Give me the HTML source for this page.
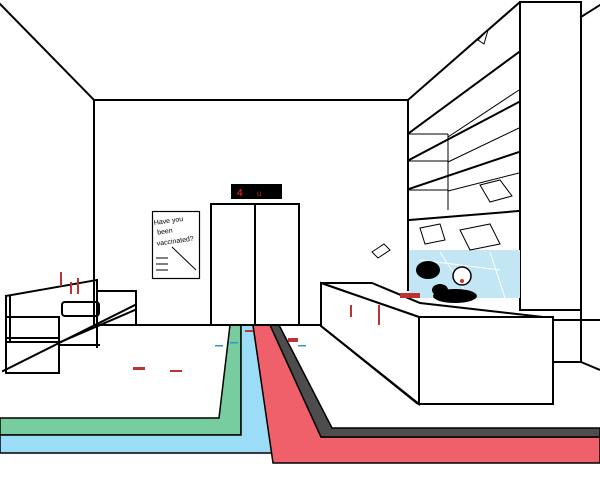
<!DOCTYPE html>
<html><head><style>html,body{margin:0;padding:0;background:#fff}svg{display:block}</style></head>
<body>
<svg width="600" height="480" viewBox="0 0 600 480" xmlns="http://www.w3.org/2000/svg">
<rect width="600" height="480" fill="#fff"/>
<g stroke="#000" stroke-width="1.5" stroke-linejoin="miter">
<!-- carpets -->
<polygon points="0,418 219,418 230,325 241,325 241,435 0,435" fill="#77cca0"/>
<polygon points="0,435 241,435 241,325 253,325 272,453 0,453" fill="#9bdcf6"/>
<polygon points="253,325 270,325 321,437 600,437 600,463 273,463" fill="#f0606a"/>
<polygon points="270,325 279,325 332,428 600,428 600,437 321,437" fill="#4d4d4d"/>
</g>
<g stroke="#000" stroke-width="2" fill="none" stroke-linecap="square">
<!-- room -->
<line x1="0" y1="4" x2="94" y2="100"/>
<line x1="94" y1="100" x2="408" y2="100"/>
<line x1="94" y1="100" x2="94" y2="325"/>
<line x1="94" y1="325" x2="211" y2="325"/>
<line x1="299" y1="325" x2="320" y2="325"/>
<!-- elevator -->
<rect x="211" y="204" width="88" height="121"/>
<line x1="255" y1="204" x2="255" y2="325"/>
<rect x="232" y="185" width="49" height="13" fill="#000"/>
<!-- poster -->
<rect x="152.5" y="211.5" width="47" height="67" stroke-width="1.2"/>
<!-- chair -->
<line x1="6" y1="296" x2="97" y2="280"/>
<line x1="6" y1="296" x2="6" y2="371"/>
<line x1="10" y1="296" x2="10" y2="340"/>
<line x1="97" y1="280" x2="97" y2="347"/>
<rect x="62" y="302" width="37" height="14" rx="3"/>
<rect x="97" y="291" width="39" height="34"/>
<line x1="3" y1="371" x2="135" y2="305"/>
<line x1="58" y1="343" x2="135" y2="310"/>
<rect x="6" y="317" width="53" height="56"/>
<line x1="6" y1="338" x2="59" y2="338"/>
<line x1="6" y1="342" x2="59" y2="342"/>
<line x1="59" y1="345" x2="99" y2="345"/>
<!-- right structure -->
<line x1="408" y1="100" x2="408" y2="290"/>
<line x1="408" y1="100" x2="520" y2="2"/>
<rect x="520" y="2" width="61" height="308" fill="#fff"/>
<line x1="581" y1="17" x2="600" y2="5"/>
<line x1="409" y1="133" x2="519" y2="52"/>
<line x1="409" y1="160" x2="519" y2="102"/>
<line x1="409" y1="189" x2="519" y2="152"/>
<line x1="409" y1="220" x2="519" y2="211"/>
</g>
<g stroke="#000" stroke-width="1" fill="none">
<line x1="409" y1="134" x2="448" y2="134"/>
<line x1="409" y1="161" x2="448" y2="161"/>
<line x1="409" y1="190" x2="448" y2="190"/>
<line x1="448" y1="134" x2="448" y2="210"/>
<line x1="448" y1="137" x2="519" y2="90"/>
<line x1="448" y1="162" x2="519" y2="128"/>
<line x1="448" y1="191" x2="519" y2="173"/>
</g>
<!-- blue window & mess -->
<rect x="409" y="250" width="111" height="48" fill="#c3e6f4"/>
<g stroke="#fff" stroke-width="1"><line x1="440" y1="252" x2="470" y2="298"/><line x1="490" y1="252" x2="505" y2="298"/><line x1="420" y1="260" x2="500" y2="270"/></g>
<g fill="#000">
<ellipse cx="428" cy="270" rx="12" ry="9"/><ellipse cx="455" cy="296" rx="22" ry="7"/>
<ellipse cx="440" cy="290" rx="8" ry="6"/><circle cx="462" cy="281" r="3"/>
</g>
<circle cx="462" cy="276" r="9" fill="#fff" stroke="#000" stroke-width="1.5"/>
<circle cx="462" cy="281" r="2" fill="#c33"/>
<g stroke="#000" stroke-width="1" fill="#fff">
<polygon points="420,228 440,224 445,240 425,244"/><polygon points="460,230 490,224 500,244 470,250"/>
<polygon points="480,185 500,180 512,196 490,202"/><polygon points="372,252 384,244 390,250 378,258"/>
<polygon points="478,40 488,30 484,44"/>
</g>
<!-- counter -->
<g stroke="#000" stroke-width="2" fill="#fff">
<polygon points="321,283 372,283 420,303 552,318 552,320 419,317"/>
<polygon points="321,283 419,317 419,404 321,326"/>
<rect x="419" y="317" width="134" height="87"/>
</g>
<g stroke="#000" stroke-width="2" fill="none">
<line x1="321" y1="326" x2="418" y2="404"/>
<line x1="553" y1="320" x2="600" y2="320"/>
<line x1="581" y1="310" x2="581" y2="362"/>
<line x1="553" y1="362" x2="581" y2="362"/>
<line x1="581" y1="362" x2="600" y2="370"/>
</g>
<!-- blood -->
<g fill="#b33">
<rect x="133" y="367" width="12" height="3"/><rect x="170" y="370" width="12" height="2"/>
<rect x="60" y="272" width="2" height="14"/><rect x="70" y="282" width="2" height="12"/><rect x="77" y="278" width="2" height="16"/>
<rect x="288" y="338" width="10" height="4"/><rect x="350" y="305" width="2" height="12"/><rect x="378" y="305" width="2" height="20"/>
<rect x="400" y="293" width="20" height="5"/><rect x="245" y="330" width="8" height="2"/>
</g>
<g fill="#39c"><rect x="215" y="345" width="8" height="1.5"/><rect x="230" y="342" width="8" height="1.5"/><rect x="298" y="345" width="8" height="1.5"/></g>
<text x="237" y="196" font-family="Liberation Sans, sans-serif" font-size="10" font-weight="bold" fill="#c22">4</text>
<text x="257" y="196" font-family="Liberation Sans, sans-serif" font-size="8" fill="#c22">u</text>
<g font-family="Liberation Sans, sans-serif" font-size="7" fill="#000" transform="rotate(-8 176 230)">
<text x="155" y="222">Have you</text><text x="157" y="232">been</text><text x="155" y="243">vaccinated?</text>
</g>
<g stroke="#000" stroke-width="1"><line x1="172" y1="247" x2="196" y2="270"/><line x1="156" y1="258" x2="168" y2="258"/><line x1="156" y1="264" x2="168" y2="264"/><line x1="156" y1="270" x2="168" y2="270"/></g>
</svg>
</body></html>
